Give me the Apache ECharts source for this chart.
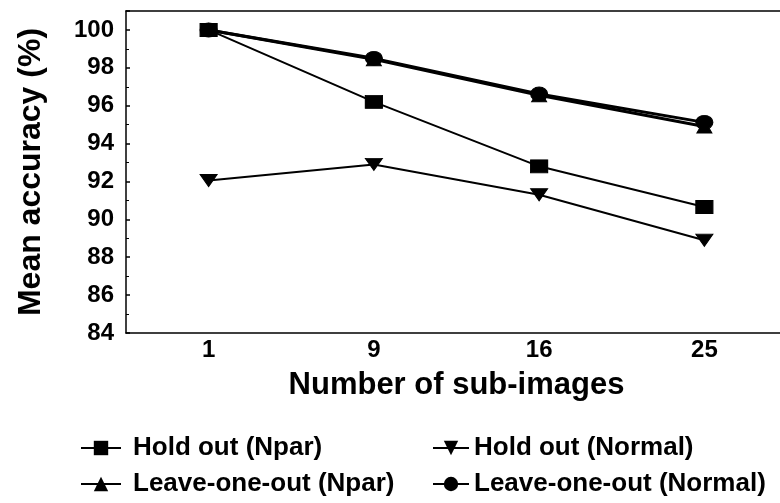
<!DOCTYPE html>
<html>
<head>
<meta charset="utf-8">
<script src="https://cdn.jsdelivr.net/npm/echarts@6/dist/echarts.min.js"></script>
<style>html,body{margin:0;padding:0;background:#fff}#c{width:780px;height:503px}</style>
</head>
<body>
<div id="c"></div>
<script>
const categories = ['1', '9', '16', '25'];
const yTicks = [84, 86, 88, 90, 92, 94, 96, 98, 100];
const holdOutNpar = [100, 96.2, 92.8, 90.65];
const holdOutNormal = [92.05, 92.9, 91.3, 88.9];
const looNpar = [100, 98.45, 96.55, 94.9];
const looNormal = [100, 98.5, 96.62, 95.12];
const seriesNames = ['Hold out (Npar)', 'Hold out (Normal)', 'Leave-one-out (Npar)', 'Leave-one-out (Normal)'];

const FONT = '"Liberation Sans", Arial, sans-serif';
const chart = echarts.init(document.getElementById('c'), null, {renderer: 'canvas'});

function mk(name, data, symbol, size, width) {
  return {
    name, type: 'line', data, symbol, symbolSize: size,
    lineStyle: {color: '#000', width},
    itemStyle: {color: '#000', borderColor: '#000'},
    emphasis: {disabled: true}, animation: false
  };
}
function lg(name, left, top, w, pad) {
  return {
    data: [name], left, top, padding: 0, itemWidth: w, itemHeight: 18, itemGap: 0,
    textStyle: {fontFamily: FONT, fontSize: 26, fontWeight: 'bold', color: '#000', padding: [0,0,0,pad]},
    selectedMode: false
  };
}

chart.setOption({
  backgroundColor: '#fff',
  animation: false,
  grid: {left: 126, top: 11, width: 661, height: 322, show: false,
         containLabel: false, outerBoundsMode: 'none'},
  legend: [
    lg(seriesNames[0], 80, 435, 40, 7),
    lg(seriesNames[1], 432, 435, 36, 0),
    lg(seriesNames[2], 80, 471, 40, 7),
    lg(seriesNames[3], 432, 471, 36, 0)
  ],
  xAxis: [{
    type: 'category', data: categories, boundaryGap: true,
    name: 'Number of sub-images', nameLocation: 'middle', nameGap: 37,
    nameTextStyle: {fontFamily: FONT, fontSize: 31, fontWeight: 'bold', color: '#000'},
    axisLine: {lineStyle: {color: '#000', width: 1.5}},
    axisTick: {alignWithLabel: true, length: 5, lineStyle: {color: '#000', width: 1.5}},
    axisLabel: {fontFamily: FONT, fontSize: 24, fontWeight: 'bold', color: '#000', margin: 5},
    splitLine: {show: false}
  }, {
    type: 'category', data: categories, position: 'top',
    axisLine: {lineStyle: {color: '#000', width: 1.5}},
    axisTick: {show: false}, axisLabel: {show: false}, splitLine: {show: false}
  }],
  yAxis: {
    type: 'value', min: 84, max: 101, interval: 2,
    name: 'Mean accuracy (%)', nameLocation: 'middle', nameGap: 79,
    nameTextStyle: {fontFamily: FONT, fontSize: 32, fontWeight: 'bold', color: '#000'},
    axisLine: {show: true, lineStyle: {color: '#000', width: 1.5}},
    axisTick: {show: true, inside: true, length: 4, lineStyle: {color: '#000', width: 1.5}},
    minorTick: {show: true, splitNumber: 2, length: 3, lineStyle: {color: '#000'}},
    axisLabel: {fontFamily: FONT, fontSize: 24, fontWeight: 'bold', color: '#000', margin: 12, showMaxLabel: false,
      formatter: v => yTicks.includes(v) ? String(v) : ''},
    splitLine: {show: false}
  },
  series: [
    mk(seriesNames[0], holdOutNpar, 'rect', [17, 13], 2),
    mk(seriesNames[1], holdOutNormal, 'path://M0,0 L10,0 L5,7 Z', [17, 12], 2),
    mk(seriesNames[2], looNpar, 'triangle', [15, 13], 3),
    mk(seriesNames[3], looNormal, 'circle', [17, 14], 3)
  ]
});
</script>
</body>
</html>
